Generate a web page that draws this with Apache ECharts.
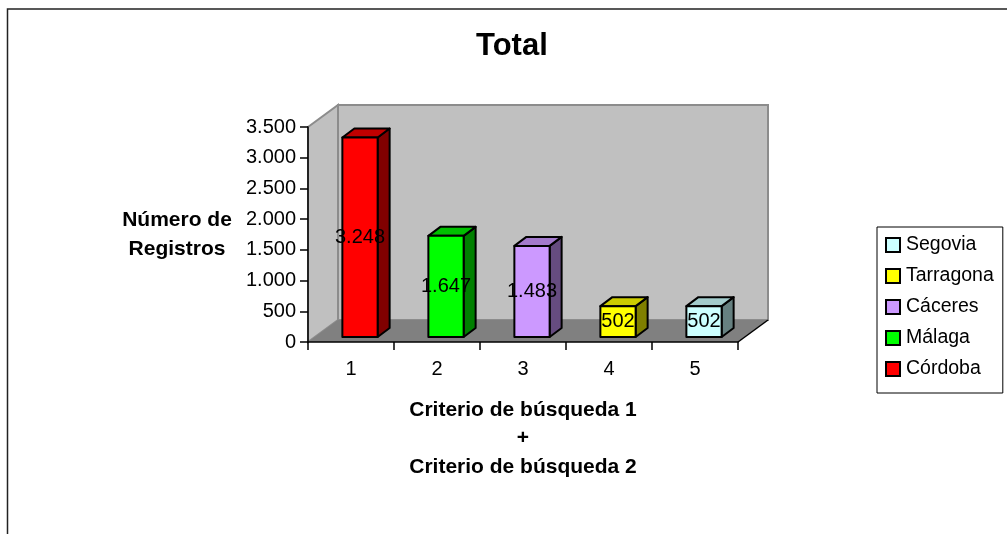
<!DOCTYPE html>
<html>
<head>
<meta charset="utf-8">
<script src="https://cdn.jsdelivr.net/npm/echarts@6/dist/echarts.min.js"></script>
<style>
html,body{margin:0;padding:0;background:#fff;}
#chart{width:1007px;height:534px;}
</style>
</head>
<body>
<div id="chart"></div>
<script>
// ---- data ----
const categories = ['1', '2', '3', '4', '5'];
const seriesNames = ['Córdoba', 'Málaga', 'Cáceres', 'Tarragona', 'Segovia'];
const values = [3248, 1647, 1483, 502, 502];
const legendOrder = ['Segovia', 'Tarragona', 'Cáceres', 'Málaga', 'Córdoba'];
const yMin = 0, yMax = 3500, yStep = 500;
const titleText = 'Total';
const yName = 'Número de\nRegistros';
const xName = 'Criterio de búsqueda 1\n+\nCriterio de búsqueda 2';

// ---- style ----
const FONT = '"Liberation Sans", Arial, sans-serif';
const faceColors = {
  'Córdoba':   { front: '#FF0000', top: '#C00000', side: '#800000' },
  'Málaga':    { front: '#00FF00', top: '#00C000', side: '#008000' },
  'Cáceres':   { front: '#CC99FF', top: '#A37ACC', side: '#664C80' },
  'Tarragona': { front: '#FFFF00', top: '#CCCC00', side: '#808000' },
  'Segovia':   { front: '#CCFFFF', top: '#A3CCCC', side: '#668080' }
};
const WALL_DX = 30, WALL_DY = -22;      // depth of plot box
const BAR_OX = 9, BAR_OY = -5;          // bar front plane offset
const BAR_DX = 12, BAR_DY = -9;         // bar depth
const BAR_W_RATIO = 0.41;

function fmt(v) {
  return String(Math.round(v)).replace(/\B(?=(\d{3})+(?!\d))/g, '.');
}

const chart = echarts.init(document.getElementById('chart'), null, { renderer: 'canvas' });

function wallRender(params, api) {
  const cs = params.coordSys;
  const x = cs.x, y = cs.y, w = cs.width, h = cs.height;
  const dx = WALL_DX, dy = WALL_DY;
  const wallStyle = { fill: '#C0C0C0', stroke: '#8C8C8C', lineWidth: 2 };
  return {
    type: 'group',
    children: [
      { type: 'polygon', shape: { points: [[x + dx, y + dy], [x + w + dx, y + dy], [x + w + dx, y + h + dy], [x + dx, y + h + dy]] }, style: wallStyle },
      { type: 'polygon', shape: { points: [[x, y], [x + dx, y + dy], [x + dx, y + h + dy], [x, y + h]] }, style: wallStyle },
      { type: 'polygon', shape: { points: [[x, y + h], [x + dx, y + h + dy], [x + w + dx, y + h + dy], [x + w, y + h]] }, style: { fill: '#808080' } },
      { type: 'line', shape: { x1: x + w, y1: y + h, x2: x + w + dx, y2: y + h + dy }, style: { stroke: '#000', lineWidth: 1.5 } }
    ]
  };
}

function barRender(name) {
  return function (params, api) {
    const cat = api.value(0), val = api.value(1);
    const base = api.coord([cat, 0]);
    const top = api.coord([cat, val]);
    const band = api.size([1, 0])[0];
    const w = band * BAR_W_RATIO;
    const x0 = base[0] + BAR_OX - w / 2, x1 = x0 + w;
    const yB = base[1] + BAR_OY, yT = top[1] + BAR_OY;
    const c = faceColors[name];
    const st = { stroke: '#000', lineWidth: 2, lineJoin: 'round' };
    return {
      type: 'group',
      children: [
        { type: 'polygon', shape: { points: [[x1, yT], [x1 + BAR_DX, yT + BAR_DY], [x1 + BAR_DX, yB + BAR_DY], [x1, yB]] }, style: Object.assign({ fill: c.side }, st) },
        { type: 'polygon', shape: { points: [[x0, yT], [x0 + BAR_DX, yT + BAR_DY], [x1 + BAR_DX, yT + BAR_DY], [x1, yT]] }, style: Object.assign({ fill: c.top }, st) },
        { type: 'rect', shape: { x: x0, y: yT, width: w, height: yB - yT }, style: Object.assign({ fill: c.front }, st) },
        { type: 'text', x: (x0 + x1) / 2, y: (yT + yB) / 2, style: { text: fmt(val), fill: '#000', font: '20px ' + FONT, align: 'center', verticalAlign: 'middle' } }
      ]
    };
  };
}

const series = [{
  type: 'custom',
  name: '__walls',
  z: 1,
  silent: true,
  renderItem: wallRender,
  data: [[0, 0]],
  encode: { x: 0, y: 1 }
}];
seriesNames.forEach(function (n, i) {
  series.push({
    type: 'custom',
    name: n,
    z: 3,
    renderItem: barRender(n),
    itemStyle: { color: faceColors[n].front },
    data: [[i, values[i]]],
    encode: { x: 0, y: 1 }
  });
});

chart.setOption({
  animation: false,
  backgroundColor: '#ffffff',
  textStyle: { fontFamily: FONT },
  title: {
    text: titleText,
    left: 476,
    top: 30.5,
    textAlign: 'left',
    padding: 0,
    textStyle: { fontFamily: FONT, fontSize: 31, fontWeight: 'bold', color: '#000', lineHeight: 31 }
  },
  legend: {
    data: legendOrder,
    orient: 'vertical',
    left: 877,
    top: 227,
    padding: [8, 9, 14, 8],
    borderColor: '#000',
    borderWidth: 1,
    icon: 'rect',
    itemWidth: 14,
    itemHeight: 14,
    itemGap: 11,
    itemStyle: { borderColor: '#000', borderWidth: 2 },
    textStyle: { fontFamily: FONT, fontSize: 19.5, lineHeight: 20, color: '#000', padding: [0, 0, 0, 1] }
  },
  grid: { left: 308, top: 127, right: 269, bottom: 192, containLabel: false },
  xAxis: {
    type: 'category',
    data: categories,
    z: 5,
    axisLine: { show: true, lineStyle: { color: '#000', width: 1.5 } },
    axisTick: { show: true, length: 8, lineStyle: { color: '#000', width: 1.5 } },
    axisLabel: { color: '#000', fontSize: 20, fontFamily: FONT, margin: 17 },
    splitLine: { show: false },
    name: xName,
    nameLocation: 'middle',
    nameGap: 96.5,
    nameTextStyle: { fontFamily: FONT, fontSize: 21, fontWeight: 'bold', color: '#000', lineHeight: 28.5, align: 'center', verticalAlign: 'middle' }
  },
  yAxis: {
    type: 'value',
    min: yMin,
    max: yMax,
    interval: yStep,
    z: 5,
    axisLine: { show: true, lineStyle: { color: '#000', width: 1.5 } },
    axisTick: { show: true, length: 8, lineStyle: { color: '#000', width: 1.5 } },
    axisLabel: { color: '#000', fontSize: 20, fontFamily: FONT, margin: 12, formatter: fmt },
    splitLine: { show: false },
    name: yName,
    nameLocation: 'middle',
    nameRotate: 0,
    nameGap: 131,
    nameTextStyle: { fontFamily: FONT, fontSize: 21, fontWeight: 'bold', color: '#000', lineHeight: 29, align: 'center', verticalAlign: 'middle', padding: [5, 0, 0, 0] }
  },
  graphic: [{
    type: 'polyline',
    silent: true,
    z: 100,
    shape: { points: [[7.5, 534], [7.5, 9], [1007, 9]] },
    style: { stroke: '#222', lineWidth: 1.5, fill: null }
  }],
  series: series
});
</script>
</body>
</html>
